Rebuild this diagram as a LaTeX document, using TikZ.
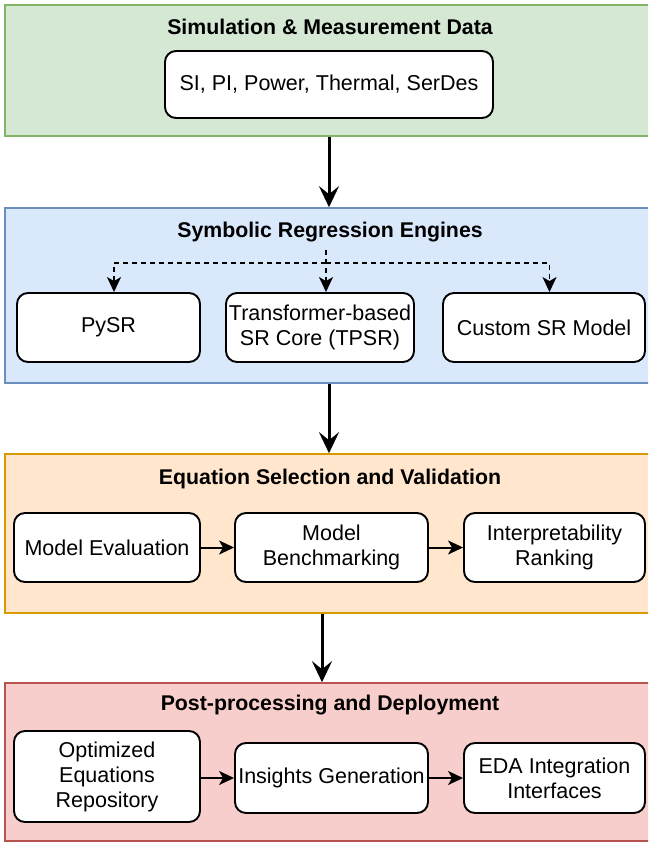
\documentclass[tikz,border=0pt]{standalone}
\usepackage{fontspec}
\setmainfont{Liberation Sans}
\usepackage[HTML]{xcolor}
\usepackage{tikz}
\usetikzlibrary{positioning, arrows.meta}

\definecolor{grnfill}{HTML}{D5E8D4}
\definecolor{grnline}{HTML}{82B366}
\definecolor{blufill}{HTML}{DAE8FC}
\definecolor{bluline}{HTML}{6C8EBF}
\definecolor{orgfill}{HTML}{FFE6CC}
\definecolor{orgline}{HTML}{D79B00}
\definecolor{redfill}{HTML}{F8CECC}
\definecolor{redline}{HTML}{B85450}

\begin{document}
\begin{tikzpicture}[x=1pt, y=-1pt,
  stage/.style={draw, line width=1.6pt, minimum width=648pt, inner sep=0pt},
  stagetitle/.style={font=\fontsize{21.3}{25}\selectfont\bfseries},
  box/.style={draw=black, line width=1.9pt, fill=white, rounded corners=11pt,
    align=center, inner sep=0pt, font=\fontsize{21.5}{25}\selectfont},
  bigarrow/.style={line width=3pt, -{Stealth[length=21pt, width=20pt, inset=8pt]}},
  smallarrow/.style={line width=2pt, -{Stealth[length=15pt, width=14pt, inset=4pt]}},
  fanarrow/.style={line width=1.8pt, dash pattern=on 5pt off 4pt, -{Stealth[length=15pt, width=14pt, inset=4pt]}}]
\useasboundingbox (0,0) rectangle (648,842);
\fill[white] (0,0) rectangle (648,842);
\clip (0,0) rectangle (648,842);

% stages
\node[stage, fill=grnfill, draw=grnline, minimum height=131pt] (data) at (329,70.5) {};
\node[stage, fill=blufill, draw=bluline, minimum height=175pt] (engines) at (329,295.5) {};
\node[stage, fill=orgfill, draw=orgline, minimum height=159pt] (valid) at (329,533.5) {};
\node[stage, fill=redfill, draw=redline, minimum height=158pt] (deploy) at (329,762) {};

% stage titles
\node[stagetitle] (dataT) at (330,27) {Simulation \& Measurement Data};
\node[stagetitle] (enginesT) at (330,232) {Symbolic Regression Engines};
\node[stagetitle] (validT) at (330,479) {Equation Selection and Validation};
\node[stagetitle] (deployT) at (330,705) {Post-processing and Deployment};

% data source
\node[box, minimum width=328pt, minimum height=67pt] (src) at (329,84.5) {SI, PI, Power, Thermal, SerDes};

% engines
\node[box, minimum width=183pt, minimum height=69pt] (pysr) at (108.5,327.5) {PySR};
\node[box, minimum width=188pt, minimum height=69pt] (tpsr) at (320,327.5) {Transformer-based\\SR Core (TPSR)};
\node[box, minimum width=202pt, minimum height=69pt] (custom) at (544,327.5) {Custom SR Model};

% selection and validation
\node[box, minimum width=186pt, minimum height=69pt] (eval) at (107,547.5) {Model Evaluation};
\node[box, minimum width=193pt, minimum height=69pt] (bench) at (331.5,547.5) {Model\\Benchmarking};
\node[box, minimum width=181pt, minimum height=69pt] (rank) at (554.5,547.5) {Interpretability\\Ranking};

% deployment
\node[box, minimum width=186pt, minimum height=91pt] (repo) at (107,776.5) {Optimized\\Equations\\Repository};
\node[box, minimum width=193pt, minimum height=70pt] (insights) at (331.5,778) {Insights Generation};
\node[box, minimum width=181pt, minimum height=70pt] (eda) at (554.5,778) {EDA Integration\\Interfaces};

% flow between stages
\draw[bigarrow] (data.south) -- (engines.north);
\draw[bigarrow] (engines.south) -- (valid.north);
\draw[bigarrow] ([xshift=-7pt]valid.south) -- ([xshift=-7pt]deploy.north);

% fan out to the engines
\coordinate (fan) at (326,250);
\coordinate (split) at (326,263);
\draw[fanarrow] (fan) -- (fan |- tpsr.north);
\draw[fanarrow] (split) -| ([xshift=5.5pt]pysr.north);
\draw[fanarrow] (split) -| ([xshift=5.5pt]custom.north);

% steps inside stages
\draw[smallarrow] (eval) -- (bench);
\draw[smallarrow] (bench) -- (rank);
\draw[smallarrow] (repo.east |- insights.west) -- (insights.west);
\draw[smallarrow] (insights) -- (eda);
\end{tikzpicture}
\end{document}
